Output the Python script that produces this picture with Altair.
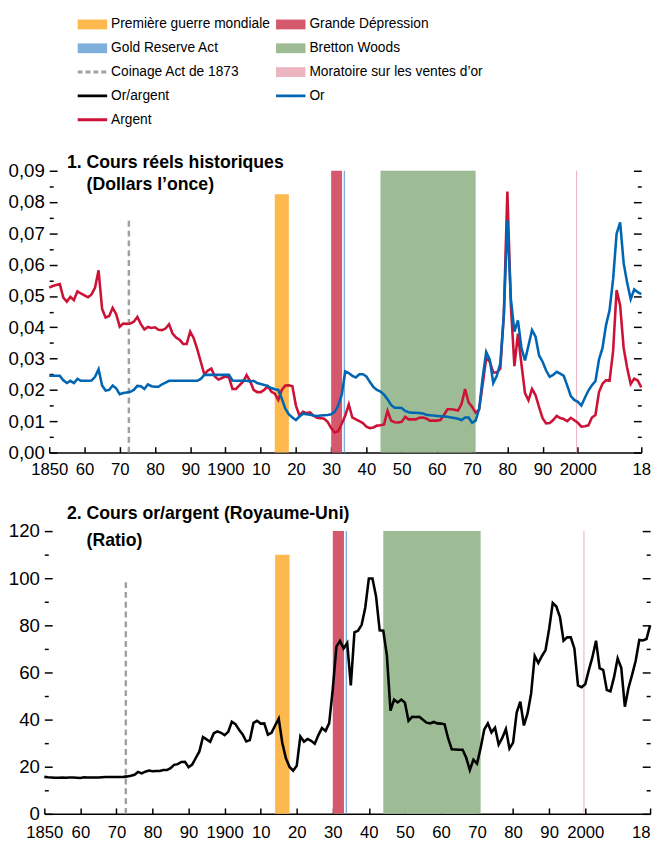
import altair as alt
import pandas as pd

years = list(range(1850, 2019))

silver = [
    0.0527, 0.0532, 0.0535, 0.0538, 0.0495, 0.0482, 0.0497, 0.0487, 0.0515, 0.0508,
    0.0502, 0.0496, 0.0505, 0.0527, 0.0582, 0.0459, 0.0431, 0.0436, 0.0462, 0.0442,
    0.0402, 0.0412, 0.0411, 0.0412, 0.0418, 0.0433, 0.0410, 0.0393, 0.0401, 0.0398,
    0.0400, 0.0392, 0.0391, 0.0396, 0.0410, 0.0380, 0.0367, 0.0360, 0.0347, 0.0347,
    0.0386, 0.0365, 0.0330, 0.0290, 0.0250, 0.0262, 0.0268, 0.0243, 0.0233, 0.0238,
    0.0243, 0.0240, 0.0203, 0.0203, 0.0215, 0.0226, 0.0247, 0.0228, 0.0200, 0.0193,
    0.0193, 0.0200, 0.0212, 0.0195, 0.0188, 0.0168, 0.0200, 0.0214, 0.0215, 0.0212,
    0.0150, 0.0118, 0.0130, 0.0126, 0.0128, 0.0118, 0.0111, 0.0110, 0.0108, 0.0098,
    0.0078, 0.0064, 0.0068, 0.0092, 0.0118, 0.0154, 0.0112, 0.0106, 0.0100, 0.0094,
    0.0083, 0.0078, 0.0080, 0.0086, 0.0087, 0.0090, 0.0133, 0.0102, 0.0097, 0.0096,
    0.0098, 0.0114, 0.0106, 0.0106, 0.0106, 0.0111, 0.0112, 0.0109, 0.0102, 0.0102,
    0.0102, 0.0104, 0.0120, 0.0138, 0.0138, 0.0137, 0.0134, 0.0155, 0.0203, 0.0160,
    0.0146, 0.0127, 0.0138, 0.0219, 0.0302, 0.0290, 0.0255, 0.0256, 0.0268, 0.0440,
    0.0834, 0.0470, 0.0276, 0.0380, 0.0282, 0.0190, 0.0167, 0.0203, 0.0183, 0.0145,
    0.0110, 0.0093, 0.0094, 0.0104, 0.0117, 0.0110, 0.0107, 0.0100, 0.0111, 0.0103,
    0.0095, 0.0083, 0.0084, 0.0087, 0.0112, 0.0120, 0.0193, 0.0220, 0.0231, 0.0229,
    0.0323, 0.0519, 0.0470, 0.0334, 0.0270, 0.0219, 0.0236, 0.0230, 0.0208,
]

gold = [
    0.0245, 0.0245, 0.0245, 0.0245, 0.0231, 0.0222, 0.0229, 0.0222, 0.0235, 0.0229,
    0.0229, 0.0229, 0.0230, 0.0242, 0.0266, 0.0214, 0.0198, 0.0200, 0.0214, 0.0205,
    0.0186, 0.0190, 0.0192, 0.0194, 0.0200, 0.0213, 0.0212, 0.0203, 0.0218, 0.0212,
    0.0210, 0.0210, 0.0218, 0.0223, 0.0229, 0.0229, 0.0229, 0.0229, 0.0229, 0.0229,
    0.0229, 0.0229, 0.0229, 0.0235, 0.0248, 0.0248, 0.0248, 0.0248, 0.0248, 0.0248,
    0.0248, 0.0248, 0.0230, 0.0229, 0.0229, 0.0229, 0.0229, 0.0227, 0.0229, 0.0222,
    0.0219, 0.0216, 0.0212, 0.0206, 0.0202, 0.0200, 0.0172, 0.0140, 0.0122, 0.0112,
    0.0104, 0.0115, 0.0124, 0.0122, 0.0121, 0.0118, 0.0117, 0.0118, 0.0119, 0.0120,
    0.0122, 0.0130, 0.0150, 0.0185, 0.0259, 0.0254, 0.0245, 0.0240, 0.0250, 0.0250,
    0.0243, 0.0225, 0.0209, 0.0200, 0.0195, 0.0185, 0.0170, 0.0152, 0.0143, 0.0143,
    0.0142, 0.0133, 0.0129, 0.0127, 0.0127, 0.0126, 0.0125, 0.0121, 0.0119, 0.0118,
    0.0117, 0.0116, 0.0115, 0.0114, 0.0112, 0.0110, 0.0108, 0.0104, 0.0112, 0.0112,
    0.0095, 0.0102, 0.0140, 0.0240, 0.0321, 0.0297, 0.0222, 0.0245, 0.0285, 0.0440,
    0.0742, 0.0490, 0.0386, 0.0422, 0.0334, 0.0294, 0.0342, 0.0391, 0.0370, 0.0310,
    0.0290, 0.0262, 0.0242, 0.0248, 0.0258, 0.0252, 0.0245, 0.0214, 0.0180, 0.0168,
    0.0162, 0.0150, 0.0175, 0.0198, 0.0215, 0.0228, 0.0297, 0.0334, 0.0407, 0.0454,
    0.0553, 0.0699, 0.0735, 0.0605, 0.0542, 0.0490, 0.0521, 0.0512, 0.0506,
]

ratio = [
    15.7, 15.5, 15.4, 15.3, 15.3, 15.4, 15.3, 15.4, 15.4, 15.3,
    15.2, 15.5, 15.4, 15.4, 15.4, 15.4, 15.5, 15.6, 15.6, 15.6,
    15.6, 15.6, 15.7, 15.9, 16.2, 16.6, 17.8, 17.2, 17.9, 18.4,
    18.1, 18.2, 18.2, 18.6, 18.6, 19.4, 20.8, 21.1, 22.0, 22.1,
    19.8, 20.9, 23.7, 26.5, 32.6, 31.6, 30.6, 34.2, 35.0, 34.4,
    33.4, 34.8, 39.1, 38.1, 35.7, 33.7, 30.7, 31.3, 38.6, 39.5,
    38.3, 38.4, 33.6, 34.4, 37.5, 40.4, 30.1, 23.6, 19.9, 18.3,
    20.4, 32.8, 30.6, 31.8, 31.0, 29.8, 33.4, 36.4, 35.2, 38.5,
    53.0, 71.0, 73.4, 70.2, 72.5, 54.5, 77.0, 77.7, 80.2, 87.5,
    99.9, 99.9, 92.3, 77.9, 77.7, 67.3, 43.8, 48.5, 47.3, 48.5,
    47.2, 39.5, 41.2, 41.1, 41.2, 39.9, 38.7, 38.4, 39.0, 38.4,
    38.3, 38.0, 32.0, 27.4, 27.3, 27.2, 27.2, 23.8, 18.6, 23.0,
    21.3, 28.0, 35.8, 38.4, 34.6, 36.6, 29.4, 32.2, 36.0, 27.7,
    30.2, 43.0, 47.6, 37.5, 42.5, 51.0, 67.0, 64.0, 67.0, 69.5,
    78.5, 89.5, 88.0, 83.5, 73.5, 74.9, 74.9, 70.2, 54.5, 53.7,
    55.0, 61.0, 66.5, 73.5, 61.8, 61.0, 52.5, 52.0, 58.0, 66.0,
    62.0, 45.5, 53.4, 59.0, 65.0, 73.8, 73.6, 74.2, 80.0,
]

band_names = ["Première guerre mondiale", "Grande Dépression", "Gold Reserve Act",
              "Bretton Woods", "Moratoire sur les ventes d’or"]
band_start = [1914.0, 1930.0, 1933.55, 1944.0, 1999.5]
band_end = [1918.0, 1933.1, 1933.95, 1971.0, 1999.8]
band_top_1 = [0.0825, 0.09, 0.09, 0.09, 0.09]
band_top_2 = [110, 120, 120, 120, 120]
band_colors = ["#FDB94E", "#D5596D", "#7FB0DC", "#9DBC95", "#EDB5C0"]

coinage_year = [1872.6]
coinage_top_1 = [0.075]
coinage_top_2 = [100]

legend_labels = ["Première guerre mondiale", "Grande Dépression", "Gold Reserve Act",
                 "Bretton Woods", "Coinage Act de 1873", "Moratoire sur les ventes d’or",
                 "Or/argent", "Or", "Argent"]
legend_kinds = ["rect", "rect", "rect", "rect", "dash", "rect", "line", "line", "line"]
legend_colors = ["#FDB94E", "#D5596D", "#7FB0DC", "#9DBC95", "#A0A0A0", "#EDB5C0",
                 "#000000", "#0066B3", "#CC1236"]

x_ticks = [1850, 1860, 1870, 1880, 1890, 1900, 1910, 1920, 1930, 1940, 1950,
           1960, 1970, 1980, 1990, 2000, 2018]
y1_labels = [0.0, 0.01, 0.02, 0.03, 0.04, 0.05, 0.06, 0.07, 0.08, 0.09]
y1_ticks = [i / 200 for i in range(19)]
y2_labels = [0, 20, 40, 60, 80, 100, 120]
y2_ticks = [0, 10, 20, 30, 40, 50, 60, 70, 80, 90, 100, 110, 120]

FONT = "Liberation Sans, Arial, sans-serif"
INDENT = "\u200b" + "\u00a0" * 4

# top panel: plot drawn from x=5 to x=608 inside its group (leaves room for labels)
W1, H1, X1 = 608, 287, 5
W2, H2 = 617, 288
LEG_H = 78
GAP = 80

silver_df = pd.DataFrame({"year": years, "value": silver})
gold_df = pd.DataFrame({"year": years, "value": gold})
ratio_df = pd.DataFrame({"year": years, "value": ratio})
bands_df = pd.DataFrame({"name": band_names, "start": band_start, "end": band_end,
                         "top1": band_top_1, "top2": band_top_2, "color": band_colors,
                         "ylo": [0] * len(band_names)})
coin_df = pd.DataFrame({"year": coinage_year, "top1": coinage_top_1,
                        "top2": coinage_top_2, "ylo": [0]})
leg_df = pd.DataFrame({"label": legend_labels, "kind": legend_kinds, "color": legend_colors,
                       "col": [i % 2 for i in range(len(legend_labels))],
                       "row": [i // 2 for i in range(len(legend_labels))]})

X_LABEL_EXPR = ("datum.value == 1850 || datum.value == 1900 || datum.value == 2000 ? "
                "toString(datum.value) : substring(toString(datum.value), 2, 4)")


def x_label_axis(pad, last_align):
    return alt.Axis(values=x_ticks, labelExpr=X_LABEL_EXPR, ticks=False, domain=True,
                    domainColor="black", domainWidth=1.5, labelFont=FONT,
                    labelFontSize=17, labelColor="black", labelPadding=pad,
                    labelOverlap=False, labelFlush=False, grid=False, title=None,
                    labelAlign={"condition": {"test": "datum.value == 2018",
                                              "value": last_align},
                                "value": "center"})


def y_label_axis(values, expr, pad):
    return alt.Axis(values=values, labelExpr=expr, ticks=False, domain=False,
                    labelFont=FONT, labelFontSize=19, labelColor="black",
                    labelPadding=pad, labelOverlap=False, grid=False, title=None)


def tick_axis(orient, offset, values, test, major, minor):
    return alt.Axis(orient=orient, offset=offset, values=values, labels=False,
                    domain=False, ticks=True,
                    tickSize={"condition": {"test": test, "value": major}, "value": minor},
                    tickWidth=1.5, tickColor="black", grid=False, title=None)


def panel(line_specs, y_domain, y_labels, y_ticks, y_expr, major_test, top_col,
          W, H, x0, title_lines, title_offset, line_h, xpad, ypad, last_align):
    xs = alt.Scale(domain=[1850, 2018], nice=False, zero=False, range=[x0, W])
    ys = alt.Scale(domain=y_domain, nice=False, zero=True)
    bands = alt.Chart(bands_df).mark_rect().encode(
        x=alt.X("start:Q", scale=xs, axis=x_label_axis(xpad, last_align)),
        x2="end:Q",
        y=alt.Y("ylo:Q", scale=ys, axis=y_label_axis(y_labels, y_expr, ypad)),
        y2=alt.Y2(f"{top_col}:Q"),
        color=alt.Color("color:N", scale=None),
    )
    coin = alt.Chart(coin_df).mark_rule(color="#A0A0A0", strokeWidth=2.5,
                                         strokeDash=[6, 4]).encode(
        x=alt.X("year:Q", scale=xs,
                axis=tick_axis("top", -H, x_ticks, "true", 6, 6)),
        y=alt.Y("ylo:Q", scale=ys,
                axis=tick_axis("right", -W + x0, y_ticks, major_test, 8, 4)),
        y2=alt.Y2(f"{top_col}:Q"),
    )
    layers = [bands, coin]
    for k, (df, color) in enumerate(line_specs):
        yax = tick_axis("left", -W, y_ticks, major_test, 8, 4) if k == 0 else None
        layers.append(
            alt.Chart(df).mark_line(color=color, strokeWidth=2.6).encode(
                x=alt.X("year:Q", scale=xs, axis=None),
                y=alt.Y("value:Q", scale=ys, axis=yax),
            )
        )
    return alt.layer(*layers).resolve_axis(x="independent", y="independent").properties(
        width=W, height=H,
        title=alt.TitleParams(text=title_lines, anchor="start", frame="group", dx=23,
                              offset=title_offset, font=FONT, fontSize=18,
                              fontWeight="bold", lineHeight=line_h, color="black"),
    )


top = panel([(silver_df, "#CC1236"), (gold_df, "#0066B3")], [0, 0.09], y1_labels, y1_ticks,
            "replace(format(datum.value, '.2f'), '.', ',')",
            "round(datum.value * 200) % 2 == 0", "top1", W1, H1, X1,
            ["1. Cours réels historiques", INDENT + "(Dollars l’once)"], -33, 23, 9, 0,
            "center")

bottom = panel([(ratio_df, "#000000")], [0, 120], y2_labels, y2_ticks,
               "toString(datum.value)", "datum.value % 20 == 0", "top2", W2, H2, 0,
               ["2. Cours or/argent (Royaume-Uni)", INDENT + "(Ratio)"], -28, 27, 11, 5,
               "right")

# legend drawn as its own small chart
lx = alt.X("col:Q", scale=alt.Scale(domain=[0, 1], range=[34, 236]), axis=None)
ly = alt.Y("row:Q", scale=alt.Scale(domain=[0, 4], range=[9, 106]), axis=None)
leg_base = alt.Chart(leg_df)
leg_rect = leg_base.transform_filter("datum.kind == 'rect'").mark_rect(
    x2Offset=30, yOffset=-5, y2Offset=5).encode(
    x=lx, x2="col:Q", y=ly, y2="row:Q", color=alt.Color("color:N", scale=None))
leg_line = leg_base.transform_filter("datum.kind != 'rect'").mark_rule(
    strokeWidth=3, x2Offset=30).encode(
    x=lx, x2="col:Q", y=ly, color=alt.Color("color:N", scale=None),
    strokeDash=alt.StrokeDash("kind:N", scale=alt.Scale(domain=["line", "dash"],
                                                         range=[[1, 0], [5, 3]]),
                              legend=None))
leg_text = leg_base.mark_text(align="left", baseline="middle", dx=34, font=FONT,
                              fontSize=14, color="black").encode(
    x=lx, y=ly, text="label:N")
legend = alt.layer(leg_rect, leg_line, leg_text).properties(width=W1, height=LEG_H)

chart = alt.vconcat(legend, top, bottom, spacing=GAP, bounds="flush").properties(
    padding=0, background="white"
).configure_view(stroke=None)

chart.save("out.html", embed_options={"renderer": "svg", "actions": False})
